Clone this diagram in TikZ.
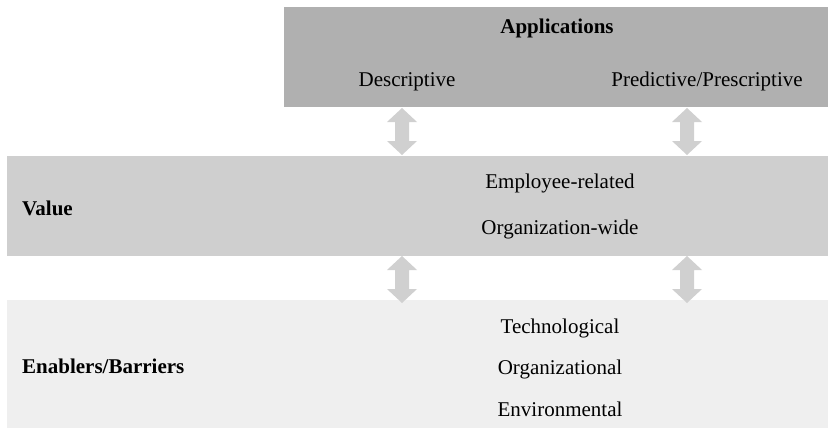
\documentclass[tikz,border=0pt]{standalone}
\usepackage{fontspec}
\setmainfont{Liberation Serif}
\begin{document}
\begin{tikzpicture}[x=1pt,y=-1pt,
  layer/.style={draw=none,inner sep=0pt,anchor=north west},
  label/.style={inner sep=0pt,anchor=base,font=\fontsize{21}{25}\selectfont},
  title/.style={label,font=\fontsize{21}{25}\selectfont\bfseries},
  arrowfill/.style={fill=arrowgray,draw=none}]
\definecolor{appgray}{HTML}{B0B0B0}
\definecolor{valgray}{HTML}{CFCFCF}
\definecolor{enbgray}{HTML}{EFEFEF}
\definecolor{arrowgray}{HTML}{D0D0D0}
\useasboundingbox[fill=white] (0,0) rectangle (828,428);

% three layers
\node[layer,fill=appgray,minimum width=544pt,minimum height=100pt] (app) at (284,7) {};
\node[layer,fill=valgray,minimum width=821pt,minimum height=100pt] (val) at (7,156) {};
\node[layer,fill=enbgray,minimum width=821pt,minimum height=128pt] (enb) at (7,300) {};

% double-headed block arrows between layers
\coordinate (a1t) at (402,108); \coordinate (a1b) at (402,155);
\coordinate (a2t) at (687,108); \coordinate (a2b) at (687,155);
\coordinate (a3t) at (402,256); \coordinate (a3b) at (402,303);
\coordinate (a4t) at (687,256); \coordinate (a4b) at (687,303);
\foreach \t/\b in {a1t/a1b,a2t/a2b,a3t/a3b,a4t/a4b}{
  \fill[arrowfill] (\t) -- ++(15,14) -- ++(-8,0) -- ([xshift=7pt,yshift=14pt]\b)
    -- ++(8,0) -- (\b) -- ++(-15,-14) -- ++(8,0) -- ([xshift=-7pt,yshift=-14pt]\t)
    -- ++(-8,0) -- cycle;
}

% labels
\node[title] (apptitle) at (557,34) {Applications};
\node[label] (desc) at (407,87) {Descriptive};
\node[label] (pred) at (707,87) {Predictive/Prescriptive};

\node[title,anchor=base west] (valtitle) at (22,215) {Value};
\node[label] (emp) at (560,188) {Employee-related};
\node[label] (org) at (560,234) {Organization-wide};

\node[title,anchor=base west] (enbtitle) at (22,373) {Enablers/Barriers};
\node[label] (tech) at (560,333) {Technological};
\node[label] (orgl) at (560,374) {Organizational};
\node[label] (env) at (560,416) {Environmental};
\end{tikzpicture}
\end{document}
